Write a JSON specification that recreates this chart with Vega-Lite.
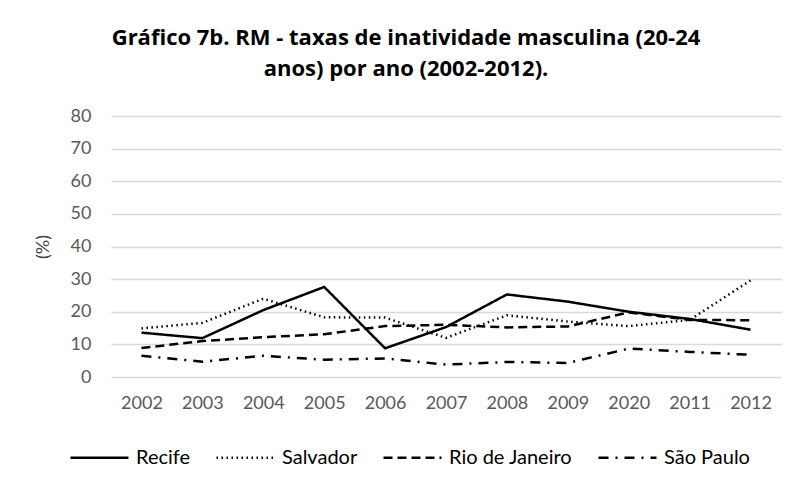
{
  "$schema": "https://vega.github.io/schema/vega-lite/v6.json",
  "autosize": {"type": "none"},
  "width": 670,
  "height": 261,
  "padding": {"left": 111, "top": 116, "right": 19, "bottom": 106},
  "background": "white",
  "title": {
    "text": ["Gráfico 7b. RM - taxas de inatividade masculina  (20-24", "anos) por ano (2002-2012)."],
    "font": "Open Sans",
    "fontSize": 22,
    "fontWeight": "bold",
    "color": "#000000",
    "anchor": "middle",
    "dx": -40,
    "offset": 26,
    "lineHeight": 31
  },
  "config": {
    "view": {"stroke": null},
    "font": "Lato"
  },
  "data": {
    "values": [
      {"ano": "2002", "serie": "Recife", "valor": 13.6},
      {"ano": "2003", "serie": "Recife", "valor": 11.9},
      {"ano": "2004", "serie": "Recife", "valor": 20.5},
      {"ano": "2005", "serie": "Recife", "valor": 27.6},
      {"ano": "2006", "serie": "Recife", "valor": 8.8},
      {"ano": "2007", "serie": "Recife", "valor": 15.3},
      {"ano": "2008", "serie": "Recife", "valor": 25.3},
      {"ano": "2009", "serie": "Recife", "valor": 23.1},
      {"ano": "2020", "serie": "Recife", "valor": 20.0},
      {"ano": "2011", "serie": "Recife", "valor": 17.8},
      {"ano": "2012", "serie": "Recife", "valor": 14.5},
      {"ano": "2002", "serie": "Salvador", "valor": 14.9},
      {"ano": "2003", "serie": "Salvador", "valor": 16.6},
      {"ano": "2004", "serie": "Salvador", "valor": 24.0},
      {"ano": "2005", "serie": "Salvador", "valor": 18.3},
      {"ano": "2006", "serie": "Salvador", "valor": 18.2},
      {"ano": "2007", "serie": "Salvador", "valor": 12.0},
      {"ano": "2008", "serie": "Salvador", "valor": 18.9},
      {"ano": "2009", "serie": "Salvador", "valor": 17.0},
      {"ano": "2020", "serie": "Salvador", "valor": 15.6},
      {"ano": "2011", "serie": "Salvador", "valor": 17.5},
      {"ano": "2012", "serie": "Salvador", "valor": 29.6},
      {"ano": "2002", "serie": "Rio de Janeiro", "valor": 8.9},
      {"ano": "2003", "serie": "Rio de Janeiro", "valor": 11.0},
      {"ano": "2004", "serie": "Rio de Janeiro", "valor": 12.2},
      {"ano": "2005", "serie": "Rio de Janeiro", "valor": 13.1},
      {"ano": "2006", "serie": "Rio de Janeiro", "valor": 15.6},
      {"ano": "2007", "serie": "Rio de Janeiro", "valor": 16.0},
      {"ano": "2008", "serie": "Rio de Janeiro", "valor": 15.2},
      {"ano": "2009", "serie": "Rio de Janeiro", "valor": 15.5},
      {"ano": "2020", "serie": "Rio de Janeiro", "valor": 19.8},
      {"ano": "2011", "serie": "Rio de Janeiro", "valor": 17.5},
      {"ano": "2012", "serie": "Rio de Janeiro", "valor": 17.4},
      {"ano": "2002", "serie": "São Paulo", "valor": 6.5},
      {"ano": "2003", "serie": "São Paulo", "valor": 4.7},
      {"ano": "2004", "serie": "São Paulo", "valor": 6.5},
      {"ano": "2005", "serie": "São Paulo", "valor": 5.3},
      {"ano": "2006", "serie": "São Paulo", "valor": 5.7},
      {"ano": "2007", "serie": "São Paulo", "valor": 3.8},
      {"ano": "2008", "serie": "São Paulo", "valor": 4.6},
      {"ano": "2009", "serie": "São Paulo", "valor": 4.3},
      {"ano": "2020", "serie": "São Paulo", "valor": 8.7},
      {"ano": "2011", "serie": "São Paulo", "valor": 7.7},
      {"ano": "2012", "serie": "São Paulo", "valor": 6.8}
    ]
  },
  "mark": {"type": "line", "color": "#000000", "strokeWidth": 2.5},
  "encoding": {
    "x": {
      "field": "ano",
      "type": "ordinal",
      "sort": null,
      "scale": {"type": "point", "padding": 0.5},
      "axis": {
        "title": null,
        "labelAngle": 0,
        "domain": false,
        "ticks": false,
        "grid": false,
        "labelFont": "Lato",
        "labelFontSize": 18,
        "labelColor": "#595959",
        "labelPadding": 17
      }
    },
    "y": {
      "field": "valor",
      "type": "quantitative",
      "scale": {"domain": [0, 80], "nice": false, "zero": true},
      "axis": {
        "title": "(%)",
        "titleFont": "Lato",
        "titleFontSize": 18,
        "titleFontWeight": "normal",
        "titleColor": "#404040",
        "titlePadding": 18,
        "values": [0, 10, 20, 30, 40, 50, 60, 70, 80],
        "domain": false,
        "ticks": false,
        "grid": true,
        "gridColor": "#d9d9d9",
        "gridWidth": 1.5,
        "labelFont": "Lato",
        "labelFontSize": 18,
        "labelColor": "#595959",
        "labelPadding": 20
      }
    },
    "strokeDash": {
      "field": "serie",
      "type": "nominal",
      "scale": {
        "domain": ["Recife", "Salvador", "Rio de Janeiro", "São Paulo"],
        "range": [[1, 0], [1.5, 3.5], [9, 5], [10, 7, 2, 7]]
      },
      "legend": {
        "title": null,
        "orient": "none",
        "legendX": -42,
        "legendY": 311,
        "direction": "horizontal",
        "columns": 4,
        "columnPadding": 20,
        "symbolType": "stroke",
        "symbolSize": 3364,
        "symbolStrokeColor": "#000000",
        "symbolStrokeWidth": 2.5,
        "labelFont": "Lato",
        "labelFontSize": 20,
        "labelColor": "#000000",
        "labelOffset": 6,
        "labelLimit": 300
      }
    }
  }
}
